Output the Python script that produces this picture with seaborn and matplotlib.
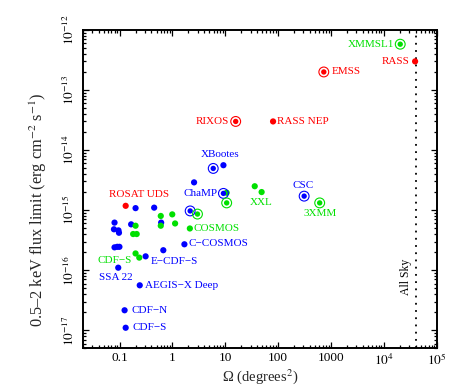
import matplotlib
matplotlib.use("Agg")
import numpy as np
import pandas as pd
import matplotlib.pyplot as plt
import matplotlib.ticker as mticker
import seaborn as sns

# survey area (deg^2) and 0.5-2 keV flux limit (erg cm^-2 s^-1), one set of lists per mission
rosat_name = ["ROSAT UDS", "RIXOS", "RASS NEP", "EMSS", "RASS"]
rosat_omega = [0.13, 15.7, 80, 730, 39000]
rosat_flux = [1.18e-15, 3.0e-14, 3.0e-14, 2.0e-13, 3.0e-13]
rosat_ring = [0, 1, 0, 1, 0]

chandra_name = ["XBootes", "", "", "ChaMP", "", "C−COSMOS", "CSC", "", "", "",
                "", "", "", "", "", "", "", "", "E−CDF−S", "", "SSA 22",
                "AEGIS−X Deep", "CDF−N", "CDF−S"]
chandra_omega = [5.9, 9.2, 2.56, 9.2, 2.16, 1.68, 310, 0.20, 0.45, 0.61,
                 0.08, 0.078, 0.095, 0.097, 0.165, 0.08, 0.09, 0.099, 0.31, 0.67, 0.094,
                 0.24, 0.124, 0.13]
chandra_flux = [4.95e-15, 5.6e-15, 2.9e-15, 1.9e-15, 9.7e-16, 2.7e-16, 1.71e-15, 1.08e-15, 1.1e-15, 6.2e-16,
                6.2e-16, 4.8e-16, 4.6e-16, 4.2e-16, 5.8e-16, 2.4e-16, 2.45e-16, 2.45e-16, 1.7e-16, 2.15e-16, 1.1e-16,
                5.6e-17, 2.15e-17, 1.1e-17]
chandra_ring = [1, 0, 0, 1, 1, 0, 1, 0, 0, 0,
                0, 0, 0, 0, 0, 0, 0, 0, 0, 0, 0,
                0, 0, 0]

xmm_name = ["XMMSL1", "3XMM", "", "XXL", "", "", "", "COSMOS", "", "", "", "", "",
            "", "", "CDF−S", ""]
xmm_omega = [20400, 610, 36, 48.6, 10.6, 10.6, 2.97, 2.13, 0.6, 0.99, 1.12, 0.6, 0.2,
             0.18, 0.21, 0.2, 0.235]
xmm_flux = [5.8e-13, 1.32e-15, 2.5e-15, 2.0e-15, 1.95e-15, 1.32e-15, 8.6e-16, 4.95e-16, 8.0e-16, 8.5e-16,
            6.0e-16, 5.5e-16, 5.5e-16, 4.0e-16, 4.0e-16, 1.9e-16, 1.62e-16]
xmm_ring = [1, 1, 0, 0, 0, 1, 1, 0, 0, 0, 0, 0, 0, 0, 0, 0, 0]

all_sky = 41253

colors = {"ROSAT": "#ff0000", "Chandra": "#0000ff", "XMM": "#00e000"}

# label offsets in pixels (dx, dy up) and alignment
label_pos = {
    ("ROSAT", "ROSAT UDS"): (13, 11, "center"),
    ("ROSAT", "RIXOS"): (-7, 0, "right"),
    ("ROSAT", "RASS NEP"): (4, 0, "left"),
    ("ROSAT", "EMSS"): (8, 0, "left"),
    ("ROSAT", "RASS"): (-6, 0, "right"),
    ("Chandra", "XBootes"): (7, 14, "center"),
    ("Chandra", "ChaMP"): (-6, 0, "right"),
    ("Chandra", "C−COSMOS"): (4, 1, "left"),
    ("Chandra", "CSC"): (-1, 11, "center"),
    ("Chandra", "E−CDF−S"): (5, -5, "left"),
    ("Chandra", "SSA 22"): (-2, -10, "center"),
    ("Chandra", "AEGIS−X Deep"): (5, 0, "left"),
    ("Chandra", "CDF−N"): (7, 0, "left"),
    ("Chandra", "CDF−S"): (7, 0, "left"),
    ("XMM", "XMMSL1"): (-6, 0, "right"),
    ("XMM", "3XMM"): (0, -11, "center"),
    ("XMM", "XXL"): (0, -10, "center"),
    ("XMM", "COSMOS"): (4, 0, "left"),
    ("XMM", "CDF−S"): (-4, -7, "right"),
}


def make_df(mission, names, omega, flux, ring):
    return pd.DataFrame({"mission": mission, "name": names, "omega": omega,
                         "flux": flux, "ring": ring})


df = pd.concat([
    make_df("ROSAT", rosat_name, rosat_omega, rosat_flux, rosat_ring),
    make_df("Chandra", chandra_name, chandra_omega, chandra_flux, chandra_ring),
    make_df("XMM", xmm_name, xmm_omega, xmm_flux, xmm_ring),
], ignore_index=True)

sns.set_theme(style="ticks")
plt.rcParams["font.family"] = ["Liberation Serif", "DejaVu Serif"]
plt.rcParams["mathtext.fontset"] = "stix"

fig = plt.figure(figsize=(4.57, 3.88), dpi=100)
ax = fig.add_axes([0.181, 0.1023, 0.7746, 0.8204])

plain = df[df.ring == 0]
ringed = df[df.ring == 1]
sns.scatterplot(data=plain, x="omega", y="flux", hue="mission", palette=colors,
                s=20, edgecolor="none", legend=False, ax=ax, zorder=3)
sns.scatterplot(data=ringed, x="omega", y="flux", hue="mission", palette=colors,
                s=15, edgecolor="none", legend=False, ax=ax, zorder=3)
ax.scatter(ringed.omega, ringed.flux, s=50, facecolors="none",
           edgecolors=ringed.mission.map(colors), linewidths=0.8, zorder=3)

for _, row in df[df.name != ""].iterrows():
    dx, dy, ha = label_pos[(row.mission, row["name"])]
    ax.annotate(row["name"], (row.omega, row.flux), xytext=(dx, dy),
                textcoords="offset pixels", ha=ha, va="center",
                color=colors[row.mission], fontsize=8)

ax.axvline(all_sky, color="black", linestyle=(0, (1, 3)), linewidth=1.3, zorder=2)
ax.annotate("All Sky", (all_sky, 7.6e-17), xytext=(-4, 0), textcoords="offset pixels",
            rotation=90, ha="right", va="center", fontsize=8.5, color="black")

ax.set_xscale("log")
ax.set_yscale("log")
ax.set_xlim(0.02, 1e5)
ax.set_ylim(5e-18, 1e-12)

xlabels = {0.1: "0.1", 1: "1", 10: "10", 100: "100", 1000: "1000",
           1e4: r"$10^4$", 1e5: r"$10^5$"}
ylabels = {1e-17: r"$10^{-17}$", 1e-16: r"$10^{-16}$", 1e-15: r"$10^{-15}$",
           1e-14: r"$10^{-14}$", 1e-13: r"$10^{-13}$", 1e-12: r"$10^{-12}$"}
ax.xaxis.set_major_locator(mticker.FixedLocator(list(xlabels.keys())))
ax.xaxis.set_major_formatter(mticker.FixedFormatter(list(xlabels.values())))
ax.yaxis.set_major_locator(mticker.FixedLocator(list(ylabels.keys())))
ax.yaxis.set_major_formatter(mticker.FixedFormatter(list(ylabels.values())))
ax.xaxis.set_minor_locator(mticker.LogLocator(base=10, subs=np.arange(2, 10), numticks=20))
ax.yaxis.set_minor_locator(mticker.LogLocator(base=10, subs=np.arange(2, 10), numticks=20))
ax.yaxis.set_minor_formatter(mticker.NullFormatter())
ax.xaxis.set_minor_formatter(mticker.NullFormatter())

ax.tick_params(which="both", direction="in", top=True, right=True, width=0.9,
               colors="black", labelsize=9.5)
ax.tick_params(which="major", length=4.5)
ax.tick_params(which="minor", length=2.3)
ax.tick_params(axis="y", which="major", labelrotation=90, pad=4)
ax.tick_params(axis="x", which="major", pad=3)
for lab in ax.get_yticklabels():
    lab.set_va("center")
for spine in ax.spines.values():
    spine.set_linewidth(1.4)
    spine.set_color("black")

ax.set_xlabel("Ω (degrees$^2$)", fontsize=10.5, labelpad=-1)
ax.set_ylabel(r"0.5–2 keV flux limit (erg cm$^{-2}$ s$^{-1}$)", fontsize=11.8)
ax.yaxis.set_label_coords(-0.095, 0.434)

fig.savefig("out.png", dpi=100)
plt.close(fig)
